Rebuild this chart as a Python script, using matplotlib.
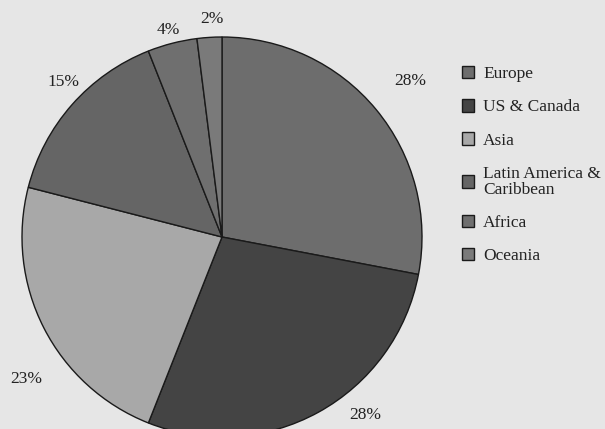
import matplotlib.pyplot as plt
import numpy as np

# udziały regionów (w procentach)
regions = ['Europe', 'US & Canada', 'Asia', 'Latin America &\nCaribbean', 'Africa', 'Oceania']
shares = [28, 28, 23, 15, 4, 2]
colors = ['#6d6d6d', '#444444', '#a8a8a8', '#656565', '#6f6f6f', '#7a7a7a']
# odległość etykiety od środka (w promieniach) i przesunięcie kąta
label_r = [1.22, 1.14, 1.21, 1.11, 1.07, 1.09]
label_dang = [0, 10, 9, -3, 0, -1]

plt.rcParams['font.family'] = ['Liberation Serif', 'DejaVu Serif']

fig = plt.figure(figsize=(6.05, 4.29), dpi=100)
fig.patch.set_facecolor('#e6e6e6')
ax = fig.add_axes([0, 0, 1, 1])
ax.set_facecolor('#e6e6e6')

wedges, _ = ax.pie(shares, colors=colors, startangle=90, counterclock=False,
                   wedgeprops=dict(edgecolor='#1a1a1a', linewidth=1.0))

# etykiety procentowe
for w, s, r, da in zip(wedges, shares, label_r, label_dang):
    ang = np.deg2rad((w.theta1 + w.theta2) / 2 + da)
    ax.text(r * np.cos(ang), r * np.sin(ang), f'{s}%', ha='center', va='center',
            fontsize=12.5, color='#222222')

ax.set_aspect('equal')
ax.set_xlim(-222 / 200, (605 - 222) / 200)
ax.set_ylim(-192 / 200, 237 / 200)
ax.axis('off')

leg = ax.legend(wedges, regions, loc='upper left', bbox_to_anchor=(455 / 605, 1 - 59 / 429),
                frameon=False, fontsize=12.5, handlelength=0.72, handleheight=0.72,
                handletextpad=0.5, labelspacing=0.98, borderaxespad=0)
for t in leg.get_texts():
    t.set_color('#222222')
    t.set_linespacing(1.0)

plt.savefig('out.png', facecolor=fig.get_facecolor())
